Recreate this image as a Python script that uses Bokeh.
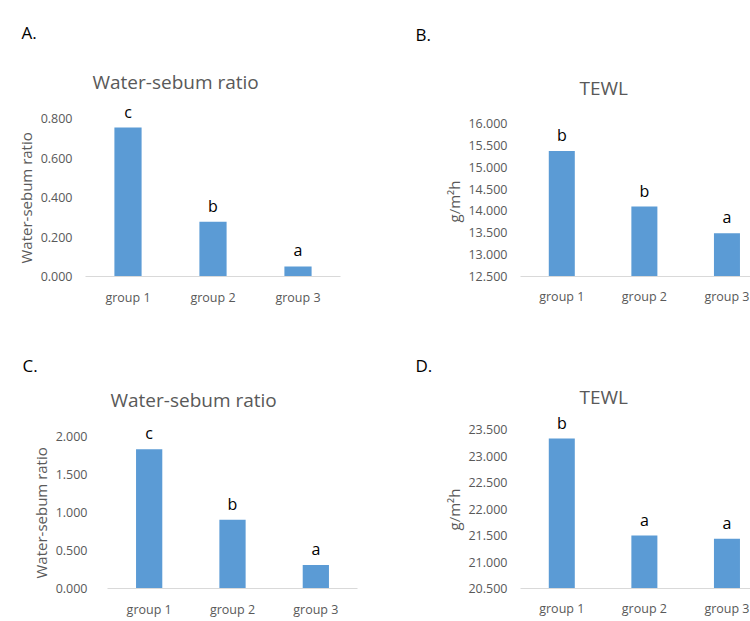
from bokeh.plotting import figure
from bokeh.layouts import column, row
from bokeh.models import Range1d, FixedTicker, PrintfTickFormatter, Title
from bokeh.core.properties import value
from bokeh.embed import file_html
from bokeh.resources import INLINE

# ---------------- data ----------------
groups = ["group 1", "group 2", "group 3"]

ws1_values = [0.754, 0.277, 0.051]
ws1_letters = ["c", "b", "a"]
ws1_ticks = [0.0, 0.2, 0.4, 0.6, 0.8]

tewl1_values = [15.37, 14.10, 13.49]
tewl1_letters = ["b", "b", "a"]
tewl1_ticks = [12.5, 13.0, 13.5, 14.0, 14.5, 15.0, 15.5, 16.0]

ws2_values = [1.832, 0.903, 0.31]
ws2_letters = ["c", "b", "a"]
ws2_ticks = [0.0, 0.5, 1.0, 1.5, 2.0]

tewl2_values = [23.33, 21.50, 21.44]
tewl2_letters = ["b", "a", "a"]
tewl2_ticks = [20.5, 21.0, 21.5, 22.0, 22.5, 23.0, 23.5]

# ---------------- style ----------------
FONT = "Open Sans"
GRAY = "#595959"
BAR = "#5B9BD5"
AXIS = "#D9D9D9"


def panel(values, letters, ticks, ymax, xend, w, h, bl, br, bt, bb,
          ystand, xstand, bw, tag, tag_off, tag_stand, title, title_off, title_stand,
          ylabel, ylabel_off, ylabel_stand):
    xs = [i + 1 for i in range(len(groups))]
    p = figure(width=w, height=h, output_backend="svg", toolbar_location=None,
               x_range=Range1d(0.5, xend), y_range=Range1d(ticks[0], ymax),
               min_border_left=bl, min_border_right=br, min_border_top=bt,
               min_border_bottom=bb)
    p.outline_line_color = None
    p.grid.visible = False
    p.background_fill_color = "white"
    p.border_fill_color = "white"

    p.vbar(x=xs, top=values, bottom=ticks[0], width=bw, color=BAR, line_color=None)
    p.text(x=xs, y=values, text=letters, text_align="center", text_baseline="bottom",
           y_offset=-5, text_font=value(FONT), text_font_size="16px", text_color="#000000")

    # x axis
    xa = p.xaxis[0]
    xa.ticker = FixedTicker(ticks=xs)
    xa.major_label_overrides = {x: g for x, g in zip(xs, groups)}
    xa.axis_line_color = AXIS
    xa.axis_line_width = 1
    xa.major_tick_line_color = None
    xa.minor_tick_line_color = None
    xa.major_tick_out = 0
    xa.major_tick_in = 0
    xa.major_label_standoff = xstand
    xa.major_label_text_font = FONT
    xa.major_label_text_font_size = "12.5px"
    xa.major_label_text_color = GRAY

    # y axis
    ya = p.yaxis[0]
    ya.ticker = FixedTicker(ticks=ticks)
    ya.formatter = PrintfTickFormatter(format="%.3f")
    ya.axis_line_color = None
    ya.major_tick_line_color = None
    ya.minor_tick_line_color = None
    ya.major_tick_out = 0
    ya.major_tick_in = 0
    ya.major_label_standoff = ystand
    ya.major_label_text_font = FONT
    ya.major_label_text_font_size = "12.5px"
    ya.major_label_text_color = GRAY

    # panel tag (outermost title row)
    p.title.text = tag
    p.title.align = "left"
    p.title.offset = tag_off
    p.title.standoff = tag_stand
    p.title.text_font = FONT
    p.title.text_font_size = "17px"
    p.title.text_font_style = "normal"
    p.title.text_color = "#000000"
    # chart title (closest to the frame)
    p.add_layout(Title(text=title, align="left", offset=title_off, standoff=title_stand,
                       text_font=FONT, text_font_size="19px", text_font_style="normal",
                       text_color=GRAY), "above")
    # y-axis caption, outside the tick labels
    p.add_layout(Title(text=ylabel, align="left", offset=ylabel_off, standoff=ylabel_stand,
                       text_font=FONT, text_font_size="15px", text_font_style="normal",
                       text_color=GRAY), "left")
    return p


# top row: frame top 108, frame bottom 276
pA = panel(ws1_values, ws1_letters, ws1_ticks, 0.8 * (276 - 108) / (276 - 118), 3.5,
           375, 310, 85, 35, 108, 34, 13, 12, 0.32,
           "A.", -64, 19, "Water-sebum ratio", 7, 27, "Water-sebum ratio", 13, 3)
pB = panel(tewl1_values, tewl1_letters, tewl1_ticks, 12.5 + 3.5 * (276 - 108) / (276 - 123), 3.285,
           375, 310, 145, 0, 108, 34, 13, 11, 0.315,
           "B.", -105, 39, "TEWL", 59, 15, "g/m\u00b2h", 54, 4)
# bottom row: frame top 414, frame bottom 588
pC = panel(ws2_values, ws2_letters, ws2_ticks, 2.0 * (588 - 414) / (588 - 436), 3.5,
           375, 311, 107, 18, 104, 33, 20, 12, 0.315,
           "C.", -85, 13, "Water-sebum ratio", 3, 3, "Water-sebum ratio", 10, 3)
pD = panel(tewl2_values, tewl2_letters, tewl2_ticks, 20.5 + 3.0 * (588 - 414) / (588 - 429), 3.285,
           375, 311, 145, 0, 104, 33, 13, 11, 0.315,
           "D.", -105, 0, "TEWL", 59, 10, "g/m\u00b2h", 58, 4)

layout = column(row(pA, pB), row(pC, pD))
open("out.html", "w").write(file_html(layout, INLINE))
